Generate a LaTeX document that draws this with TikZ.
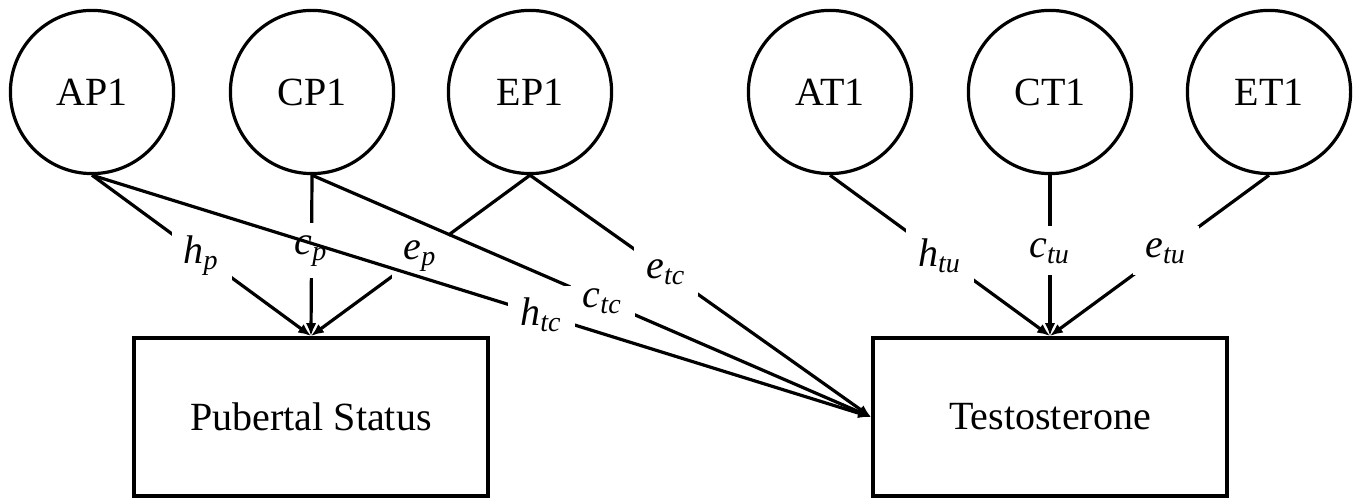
\documentclass[tikz,border=0pt]{standalone}
\usepackage{fontspec}
\setmainfont{Liberation Serif}
\usepackage{tikz}
\usetikzlibrary{shapes, arrows, arrows.meta, positioning}
\newcommand{\coef}[2]{\textit{#1}\textsubscript{\itshape #2}}

\begin{document}
\begin{tikzpicture}[x=0.25pt,y=-0.25pt,>={Latex[length=3.2pt,width=2.6pt]}]
        \useasboundingbox (0,0) rectangle (1358,500);
        \begin{scope}[every node/.style={thick,draw,circle,minimum size=40.8pt,inner sep=0pt}]
          \node (ap) at (92,92) {AP1};
          \node (cp) at (312,92) {CP1};
          \node (ep) at (530,92) {EP1};
          \node (at) at (830,92) {AT1};
          \node (ct) at (1050,92) {CT1};
          \node (et) at (1269,92) {ET1};
        \end{scope}
        \begin{scope}[every node/.style={line width=1pt,draw,rectangle,minimum width=88.5pt,minimum height=39.5pt}]
          \node (pub) at (311,417) {Pubertal Status};
          \node (tes) at (1050,417) {Testosterone};
        \end{scope}
        \begin{scope}[every edge/.style={draw=black,thick,->},
                      every node/.style={fill=white,inner sep=3pt}]
          \path (ap.south) edge node {\coef{h}{p}} (pub.north);
          \path (cp.south) edge node[pos=0.47] {\coef{c}{p}} (pub.north);
          \path (ep.south) edge node {\coef{e}{p}} (pub.north);
          \path (at.south) edge node {\coef{h}{tu}} (tes.north);
          \path (ct.south) edge node[pos=0.47] {\coef{c}{tu}} (tes.north);
          \path (et.south) edge node[pos=0.47] {\coef{e}{tu}} (tes.north);
          \path (ep.south) edge node[pos=0.40] {\coef{e}{tc}} (tes.west);
          \path (cp.south) edge node[pos=0.52] {\coef{c}{tc}} (tes.west);
          \path (ap.south) edge node[pos=0.577] {\coef{h}{tc}} (tes.west);
        \end{scope}
      \end{tikzpicture}
\end{document}
